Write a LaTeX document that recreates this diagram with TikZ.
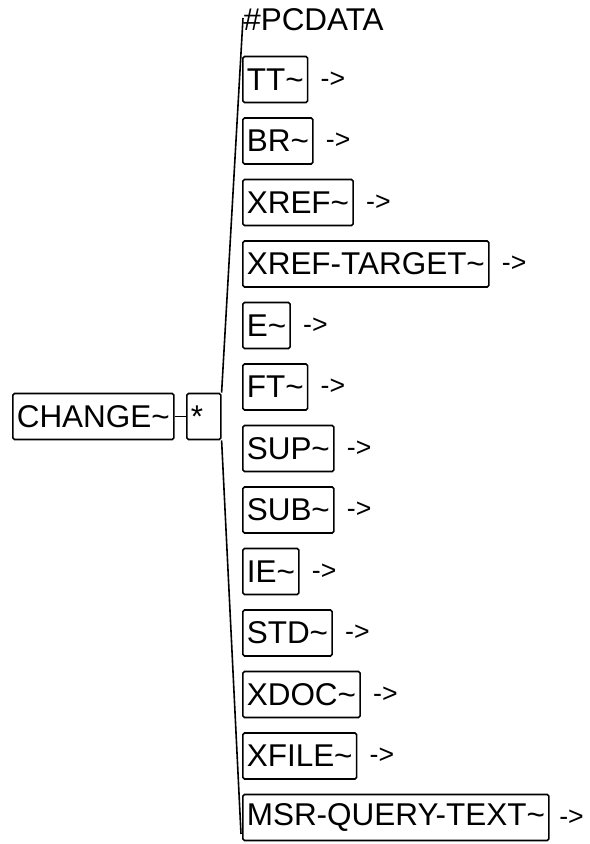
\documentclass[tikz,border=0pt]{standalone}
\usepackage{fontspec}
\setmainfont{Liberation Sans}
\usetikzlibrary{positioning}
\newcommand{\tld}{\textasciitilde}

\begin{document}
\begin{tikzpicture}[x=0.75pt, y=-0.75pt,
		elem/.style={draw, line width=1.2pt, rounded corners=1.2pt, minimum height=34.5pt, inner xsep=3pt, inner ysep=0pt, anchor=west, font=\fontsize{23.6}{26}\selectfont},
		more/.style={inner sep=0pt, font=\fontsize{20}{22}\selectfont},
		link/.style={line width=1.2pt}]
				\useasboundingbox (0,0) rectangle (590,844);
				\node[elem] (change) at (12,416.5) {CHANGE\tld};
				\node[elem, text width=19.5pt, align=left] (star) at (186,416.5) {*};
				
				\node[anchor=west, inner sep=0pt, font=\fontsize{23.6}{26}\selectfont] (pcdata) at (243,20) {\#PCDATA};
				\node[elem] (tt) at (242,79.5) {TT\tld};
				\node[elem] (br) at (242,141) {BR\tld};
				\node[elem] (xref) at (242,202.5) {XREF\tld};
				\node[elem] (xreft) at (242,264) {XREF-TARGET\tld};
				\node[elem] (e) at (242,325.5) {E\tld};
				\node[elem] (ft) at (242,387) {FT\tld};
				\node[elem] (sup) at (242,448.5) {SUP\tld};
				\node[elem] (sub) at (242,510) {SUB\tld};
				\node[elem] (ie) at (242,571.5) {IE\tld};
				\node[elem] (std) at (242,633) {STD\tld};
				\node[elem] (xdoc) at (242,694.5) {XDOC\tld};
				\node[elem] (xfile) at (242,756) {XFILE\tld};
				\node[elem] (msr) at (242,817.5) {MSR-QUERY-TEXT\tld};
				
				% "->" markers after each child
				\node[more, right=9pt of tt] (tta) {->};
				\node[more, right=9pt of br] (bra) {->};
				\node[more, right=9pt of xref] (xrefa) {->};
				\node[more, right=9pt of xreft] (xrefta) {->};
				\node[more, right=9pt of e] (ea) {->};
				\node[more, right=9pt of ft] (fta) {->};
				\node[more, right=9pt of sup] (supa) {->};
				\node[more, right=9pt of sub] (suba) {->};
				\node[more, right=9pt of ie] (iea) {->};
				\node[more, right=9pt of std] (stda) {->};
				\node[more, right=9pt of xdoc] (xdoca) {->};
				\node[more, right=9pt of xfile] (xfilea) {->};
				\node[more, right=7pt of msr] (msra) {->};
				
				\coordinate (top) at (243,18);
				\coordinate (bot) at (241,834);
				\draw[link] (change.east) -- (star.west);
				\draw[link] (star.north east) -- (top);
				\draw[link] (star.south east) -- (bot);
			\end{tikzpicture}
\end{document}
